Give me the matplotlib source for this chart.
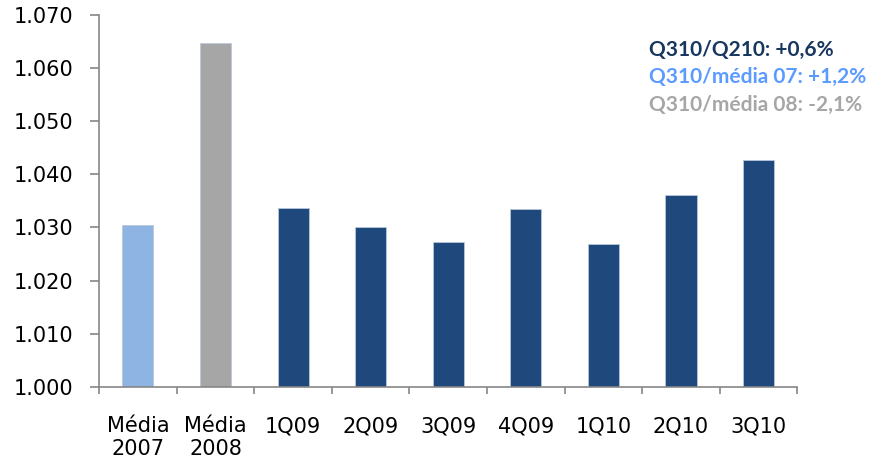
import numpy as np
import matplotlib.pyplot as plt

categories = ['Média\n2007', 'Média\n2008', '1Q09', '2Q09', '3Q09', '4Q09', '1Q10', '2Q10', '3Q10']
values = [1.0304, 1.0646, 1.0336, 1.0301, 1.0272, 1.0334, 1.0269, 1.0361, 1.0426]
bar_colors = ['#8EB4E3', '#A6A6A6'] + ['#1F497D'] * 7

notes = ['Q310/Q210: +0,6%', 'Q310/média 07: +1,2%', 'Q310/média 08: -2,1%']
note_colors = ['#17375E', '#5B9BFF', '#A6A6A6']

fig = plt.figure(figsize=(8.85, 4.69), dpi=100)
ax = fig.add_axes([0.112, 0.175, 0.789, 0.794])

x = np.arange(len(categories))
ax.bar(x, values, width=0.4, bottom=0, color=bar_colors,
       edgecolor='#B9C7DA', linewidth=0.6, zorder=2)

ax.set_ylim(1.000, 1.070)
ax.set_xlim(-0.5, len(categories) - 0.5)
yt = np.arange(1.000, 1.0701, 0.010)
ax.set_yticks(yt)
ax.set_yticklabels([f'{v:.3f}' for v in yt])

ax.set_xticks(x)
ax.set_xticklabels(categories, fontsize=15, linespacing=1.2)
ax.set_xticks(np.arange(-0.5, len(categories), 1.0), minor=True)
ax.tick_params(axis='x', which='major', length=0, pad=21)
ax.tick_params(axis='x', which='minor', length=5, color='#868686', width=1.2)
ax.tick_params(axis='y', labelsize=15, length=6.5, color='#868686', width=1.2, pad=12)

for s in ['top', 'right']:
    ax.spines[s].set_visible(False)
for s in ['left', 'bottom']:
    ax.spines[s].set_color('#868686')
    ax.spines[s].set_linewidth(1.2)

for i, (txt, c) in enumerate(zip(notes, note_colors)):
    fig.text(0.733, 0.893 - i * 0.058, txt, color=c, fontsize=15,
             fontweight='bold', family='Lato', va='center', ha='left')

fig.savefig('out.png', dpi=100)
